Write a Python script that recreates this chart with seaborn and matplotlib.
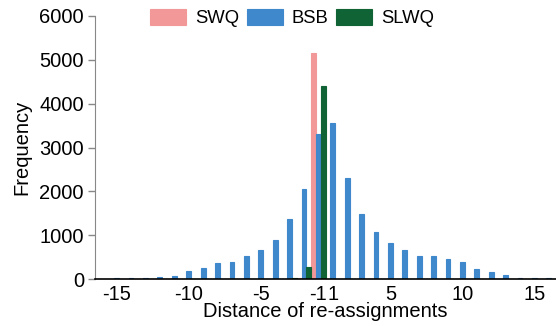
import numpy as np
import pandas as pd
import seaborn as sns
import matplotlib.pyplot as plt

# categories (no zero distance)
dists = list(range(-15, 0)) + list(range(1, 17))
methods = ['SWQ', 'BSB', 'SLWQ']
colors = ['#F39899', '#3F88CB', '#0F6334']

bsb = [20, 20, 20, 55, 75, 190, 250, 365, 395, 525, 660, 890, 1360, 2050, 3300,
       3560, 2300, 1480, 1070, 820, 660, 530, 530, 450, 380, 240, 150, 90, 15, 15, 15]
swq = [0] * 31
swq[dists.index(-1)] = 5150
swq[dists.index(-2)] = 30
slwq = [0] * 31
slwq[dists.index(-1)] = 4400
slwq[dists.index(-2)] = 280
slwq[dists.index(-3)] = 20

tick_vals = [-15, -10, -5, -1, 1, 5, 10, 15]

# long format for seaborn
df = pd.DataFrame({
    'dist': [str(d) for d in dists] * 3,
    'method': np.repeat(methods, len(dists)),
    'freq': swq + bsb + slwq,
})

sns.set_style('ticks', {'text.color': 'black', 'axes.labelcolor': 'black',
                        'xtick.color': 'black', 'ytick.color': 'black'})
plt.rcParams['font.family'] = ['Liberation Sans', 'DejaVu Sans']

fig = plt.figure(figsize=(5.56, 3.26), dpi=100)
ax = fig.add_axes([0.171, 0.144, 0.829, 0.807])

cats = [str(d) for d in dists]
sns.barplot(data=df, x='dist', y='freq', hue='method', order=cats,
            hue_order=methods, palette=colors, width=1.0, saturation=1,
            errorbar=None, ax=ax)

# zero-height bars show up as thin lines on the baseline
for p in ax.patches:
    p.set_edgecolor(p.get_facecolor())
    p.set_linewidth(0.8)

ax.set_xlim(-1.5, 30.5)
ax.set_ylim(0, 6000)
ax.set_xticks([cats.index(str(v)) for v in tick_vals])
ax.set_xticklabels([str(v) for v in tick_vals])
ax.set_yticks(range(0, 6001, 1000))
ax.tick_params(axis='x', length=0, labelsize=14.5, pad=4, labelcolor='black')
ax.tick_params(axis='y', length=5, width=1, color='#888888', labelsize=14.5,
               pad=3, labelcolor='black')

ax.set_xlabel('Distance of re-assignments', fontsize=14.5, labelpad=-1)
ax.set_ylabel('Frequency', fontsize=14.5, labelpad=6)

sns.despine(ax=ax)
ax.spines['left'].set_color('#888888')
ax.spines['bottom'].set_color('black')
ax.spines['bottom'].set_linewidth(1.2)

ax.legend(loc='center left', bbox_to_anchor=(0.253, 0.945),
          bbox_transform=fig.transFigure, ncol=3, frameon=False,
          fontsize=13.3, handlelength=1.95, handleheight=0.95,
          handletextpad=0.5, columnspacing=0.4, borderpad=0)

fig.savefig('out.png', dpi=100)
